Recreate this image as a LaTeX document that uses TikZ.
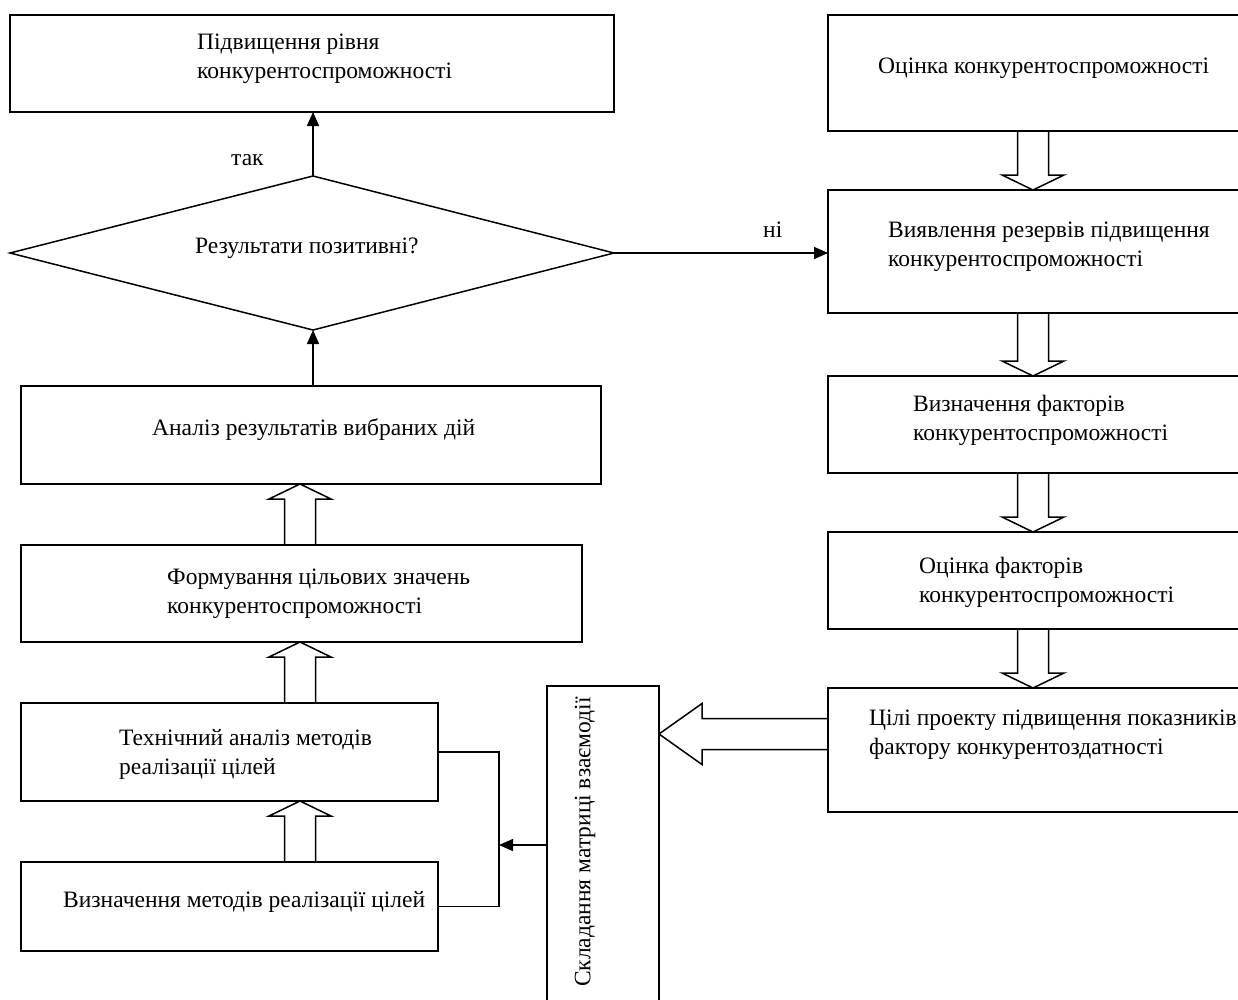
\documentclass[tikz,border=0pt]{standalone}
\usepackage{fontspec}
\setmainfont{Liberation Serif}
\usetikzlibrary{arrows.meta,calc}
\newcommand{\vblock}[3]{\draw[blk] ($(#1)+(-15.5,0)$) -- ($(#2)+(-15.5,#3*15)$) -- ($(#2)+(-31,#3*15)$) -- (#2) -- ($(#2)+(31,#3*15)$) -- ($(#2)+(15.5,#3*15)$) -- ($(#1)+(15.5,0)$);}
\begin{document}
\begin{tikzpicture}[x=1pt,y=-1pt,
 box/.style={draw,line width=1.5pt,rectangle,inner sep=0pt,outer sep=0pt,anchor=north west},
 txt/.style={font=\fontsize{23.5}{29}\selectfont,align=left,inner sep=0pt,anchor=west},
 blk/.style={draw,line width=1.5pt,line join=miter},
 arr/.style={line width=1.5pt,-{Triangle[length=14pt,width=12pt]}},
 ln/.style={line width=1.5pt}]
\useasboundingbox (0,0) rectangle (1238,999);
% left column boxes
\node[box,minimum width=604pt,minimum height=97pt] (b1) at (10,15) {};
\node[box,minimum width=580pt,minimum height=98pt] (ana) at (21,386) {};
\node[box,minimum width=561pt,minimum height=97pt] (form) at (21,545) {};
\node[box,minimum width=417pt,minimum height=98pt] (tech) at (21,703) {};
\node[box,minimum width=417pt,minimum height=89pt] (vm) at (21,862) {};
\node[box,minimum width=112pt,minimum height=318pt] (vert) at (547,686) {};
% right column boxes
\node[box,minimum width=422pt,minimum height=116pt] (r1) at (828,15) {};
\node[box,minimum width=422pt,minimum height=123pt] (r2) at (828,190) {};
\node[box,minimum width=422pt,minimum height=97pt] (r3) at (828,376) {};
\node[box,minimum width=422pt,minimum height=97pt] (r4) at (828,532) {};
\node[box,minimum width=422pt,minimum height=124pt] (r5) at (828,688) {};
% diamond
\coordinate (dmL) at (10,253);
\coordinate (dmT) at (313,176);
\coordinate (dmR) at (614,253);
\coordinate (dmB) at (313,330);
\draw[ln,line join=miter] (dmL) -- (dmT) -- (dmR) -- (dmB) -- cycle;
% texts
\node[txt] (t1) at (197,59) {Підвищення рівня\\конкурентоспроможності};
\node[txt] (tdm) at (195,248) {Результати позитивні?};
\node[txt] (tyes) at (231,160) {так};
\node[txt] (tno) at (763,230) {ні};
\node[txt] (tana) at (152,430) {Аналіз результатів вибраних дій};
\node[txt] (tform) at (167,594) {Формування цільових значень\\конкурентоспроможності};
\node[txt] (ttech) at (119,754) {Технічний аналіз методів\\реалізації цілей};
\node[txt] (tvm) at (63,902) {Визначення методів реалізації цілей};
\node[txt,anchor=center,rotate=90] (tvert) at (585,842) {Складання матриці взаємодії};
\node[txt] (tr1) at (878,68) {Оцінка конкурентоспроможності};
\node[txt] (tr2) at (888,247) {Виявлення резервів підвищення\\конкурентоспроможності};
\node[txt] (tr3) at (913,420) {Визначення факторів\\конкурентоспроможності};
\node[txt] (tr4) at (919,582) {Оцінка факторів\\конкурентоспроможності};
\node[txt] (tr5) at (869,735) {Цілі проекту підвищення показників\\фактору конкурентоздатності};
% line arrows
\draw[arr] (dmT) -- (dmT |- b1.south);
\draw[arr] (dmR) -- (dmR -| r2.west);
\draw[arr] (dmB |- ana.north) -- (dmB);
% bracket
\coordinate (bx) at (499,0);
\draw[ln,line join=miter] (tech.east) -- (tech.east -| bx) -- (vm.east -| bx) -- (vm.east);
\draw[arr] (vert.west) -- (vert.west -| bx);
% block arrows left
\coordinate (lx) at (300,0);
\coordinate (a1s) at (lx |- form.north); \coordinate (a1t) at (lx |- ana.south);
\coordinate (a2s) at (lx |- tech.north); \coordinate (a2t) at (lx |- form.south);
\coordinate (a3s) at (lx |- vm.north); \coordinate (a3t) at (lx |- tech.south);
\vblock{a1s}{a1t}{1}
\vblock{a2s}{a2t}{1}
\vblock{a3s}{a3t}{1}
% block arrows right
\coordinate (rx) at (1033,0);
\coordinate (b1s) at (rx |- r1.south); \coordinate (b1t) at (rx |- r2.north);
\coordinate (b2s) at (rx |- r2.south); \coordinate (b2t) at (rx |- r3.north);
\coordinate (b3s) at (rx |- r3.south); \coordinate (b3t) at (rx |- r4.north);
\coordinate (b4s) at (rx |- r4.south); \coordinate (b4t) at (rx |- r5.north);
\vblock{b1s}{b1t}{-1}
\vblock{b2s}{b2t}{-1}
\vblock{b3s}{b3t}{-1}
\vblock{b4s}{b4t}{-1}
% horizontal block arrow
\coordinate (hy) at (0,734);
\coordinate (hs) at (r5.west |- hy);
\coordinate (ht) at (vert.east |- hy);
\draw[blk] ($(hs)+(0,-15.5)$) -- ($(ht)+(43,-15.5)$) -- ($(ht)+(43,-30.5)$) -- (ht) -- ($(ht)+(43,30.5)$) -- ($(ht)+(43,15.5)$) -- ($(hs)+(0,15.5)$);
\end{tikzpicture}
\end{document}
